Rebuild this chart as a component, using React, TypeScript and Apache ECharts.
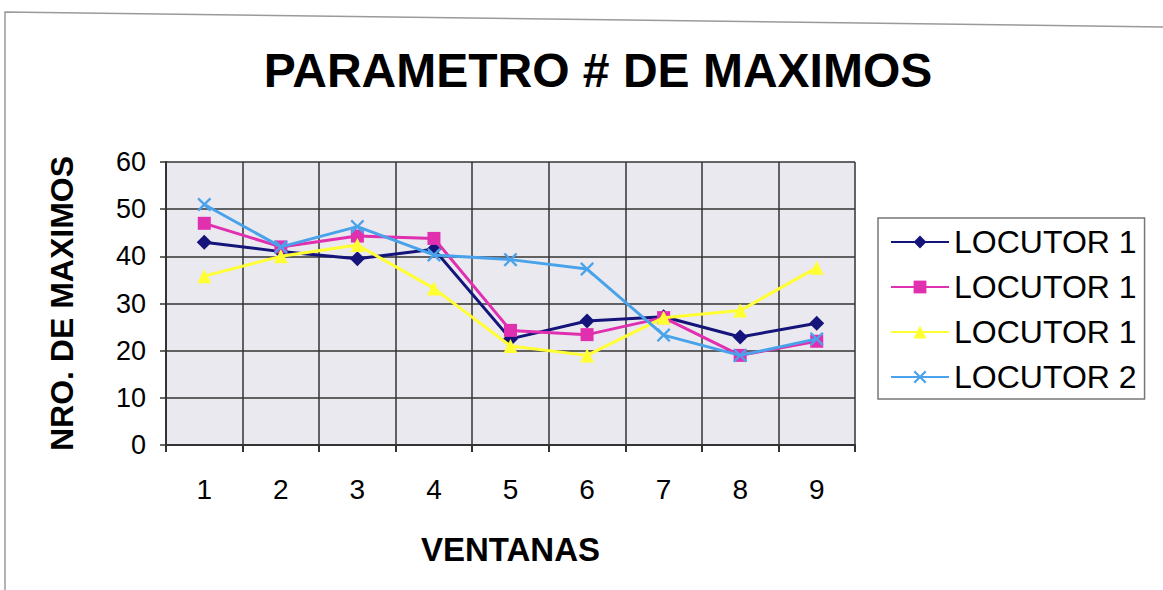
import React, { useEffect, useRef } from "react";
import * as echarts from "echarts";

const categories = ["1", "2", "3", "4", "5", "6", "7", "8", "9"];
const seriesNames = ["LOCUTOR 1", "LOCUTOR 1", "LOCUTOR 1", "LOCUTOR 2"];
const locutor1a = [43, 41, 39.5, 41.5, 22.5, 26.3, 27.2, 22.9, 25.8];
const locutor1b = [47, 42, 44.3, 43.8, 24.3, 23.4, 27, 19, 22];
const locutor1c = [35.8, 40, 42.4, 33.2, 21, 19, 27, 28.5, 37.6];
const locutor2 = [51, 42, 46.3, 40.3, 39.3, 37.3, 23.3, 19, 22.5];
const yTicks = { min: 0, max: 60, interval: 10 };

const colors = ["#14147a", "#e030b0", "#ffff33", "#4aa3ea"];
const symbols = [
  "diamond",
  "rect",
  "triangle",
  "path://M0,1.2 L1.2,0 L5,3.8 L8.8,0 L10,1.2 L6.2,5 L10,8.8 L8.8,10 L5,6.2 L1.2,10 L0,8.8 L3.8,5Z",
];
const symbolSizes = [15, 13, 14, 14];

export default function App() {
  const ref = useRef<HTMLDivElement>(null);
  useEffect(() => {
    if (!ref.current) return;
    const chart = echarts.init(ref.current, null, { renderer: "svg" });
    const data = [locutor1a, locutor1b, locutor1c, locutor2];
    const font = "Liberation Sans, Arial, sans-serif";
    chart.setOption({
      animation: false,
      backgroundColor: "#ffffff",
      textStyle: { fontFamily: font },
      title: {
        text: "PARAMETRO # DE MAXIMOS",
        left: 593,
        textAlign: "center",
        top: 41,
        textStyle: { fontSize: 48, fontWeight: "bold", color: "#000", fontFamily: font },
      },
      graphic: [
        {
          type: "polyline",
          shape: { points: [[5, 590], [5, 12], [1163, 27]] },
          style: { stroke: "#9a9a9a", lineWidth: 1.5, fill: "none" },
          silent: true,
        },
      ],
      grid: { left: 166, top: 162, width: 689, height: 283, show: true, backgroundColor: "#e9e9ef", borderWidth: 0 },
      legend: {
        orient: "vertical",
        left: 878,
        top: 218,
        width: 282,
        padding: [8, 8, 6, 12],
        itemGap: 13,
        itemWidth: 58,
        itemHeight: 16,
        borderColor: "#777",
        borderWidth: 1.5,
        backgroundColor: "#fff",
        textStyle: { fontSize: 32, color: "#000", fontFamily: font },
        data: seriesNames.map((n, i) => ({ name: n + "\u200b".repeat(i) })),
      },
      xAxis: {
        type: "category",
        data: categories,
        boundaryGap: true,
        name: "VENTANAS",
        nameLocation: "middle",
        nameGap: 88,
        nameTextStyle: { fontSize: 33, fontWeight: "bold", color: "#000" },
        axisLine: { lineStyle: { color: "#333", width: 2 } },
        axisTick: { show: true, length: 7, lineStyle: { color: "#333", width: 2 } },
        axisLabel: { fontSize: 28, color: "#000", margin: 30 },
        splitLine: { show: true, lineStyle: { color: "#333", width: 1.5 } },
      },
      yAxis: {
        type: "value",
        min: yTicks.min,
        max: yTicks.max,
        interval: yTicks.interval,
        name: "NRO. DE MAXIMOS",
        nameLocation: "middle",
        nameGap: 88,
        nameTextStyle: { fontSize: 32, fontWeight: "bold", color: "#000" },
        axisLine: { show: true, lineStyle: { color: "#333", width: 2 } },
        axisTick: { show: true, length: 6, lineStyle: { color: "#333", width: 1.5 } },
        axisLabel: { fontSize: 27, color: "#000", margin: 20 },
        splitLine: { show: true, lineStyle: { color: "#333", width: 1.5 } },
      },
      series: data.map((d, i) => ({
        name: seriesNames[i] + "\u200b".repeat(i),
        type: "line",
        data: d,
        symbol: symbols[i],
        symbolSize: symbolSizes[i],
        showSymbol: true,
        lineStyle: { color: colors[i], width: 3 },
        itemStyle: { color: colors[i] },
        z: 2 + i,
      })),
    });
    return () => chart.dispose();
  }, []);
  return (
    <div
      ref={ref}
      style={{ position: "fixed", left: 0, top: 0, width: 1163, height: 590 }}
    />
  );
}
